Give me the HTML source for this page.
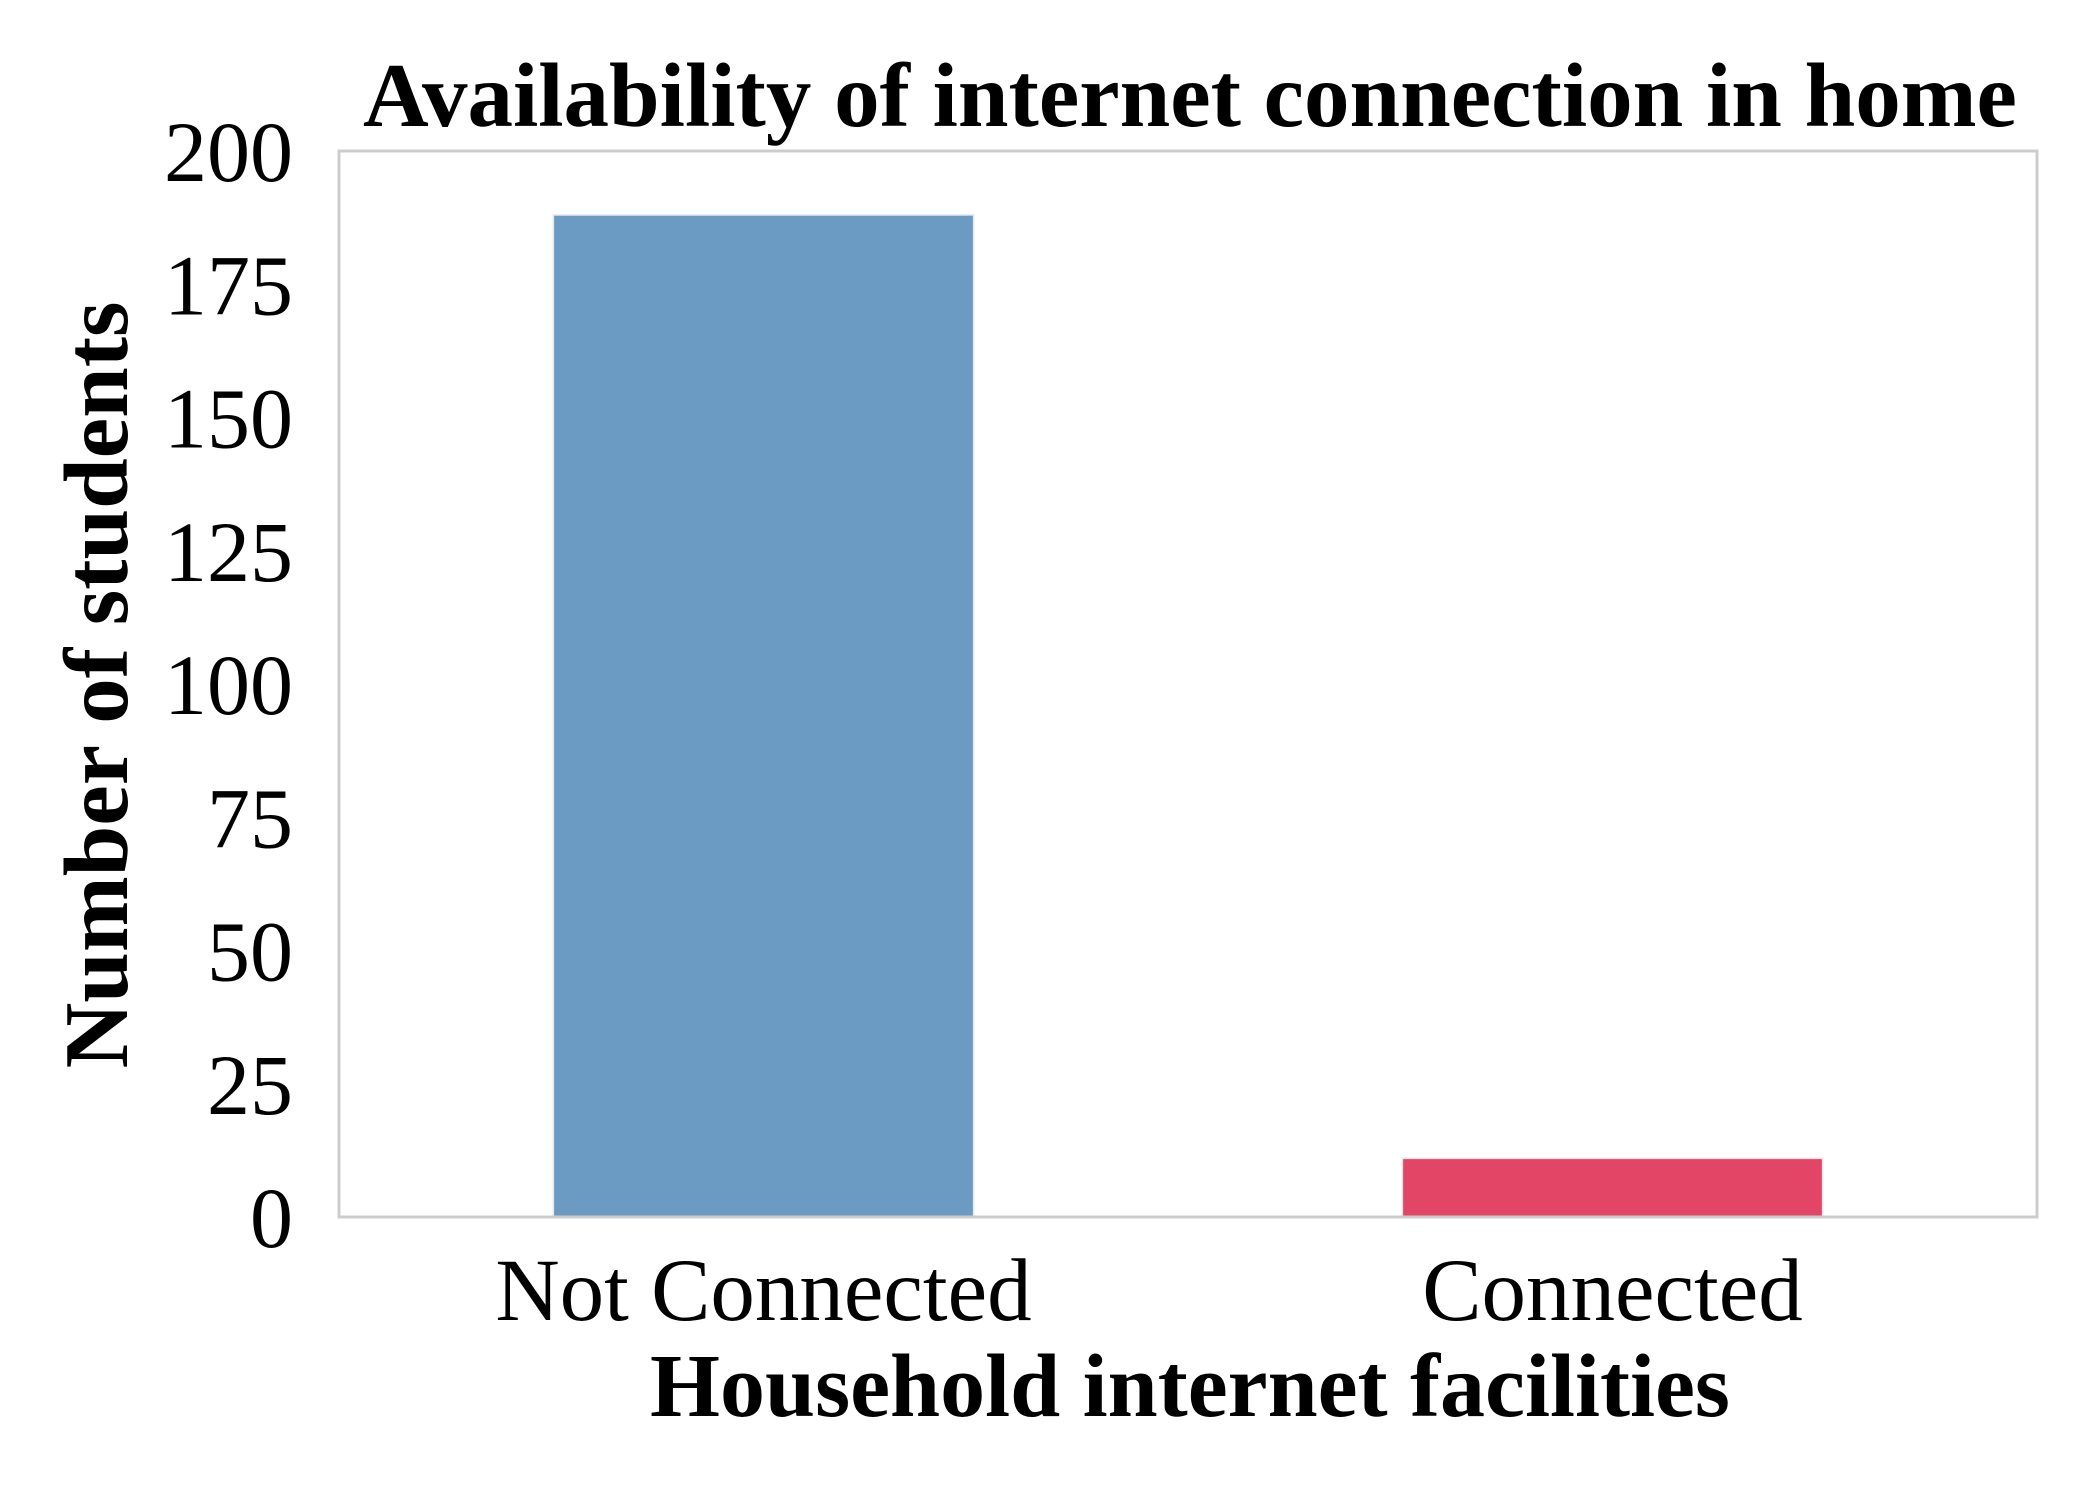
<!DOCTYPE html>
<html><head><meta charset="utf-8"><style>
html,body{margin:0;padding:0;background:#fff;}
svg{display:block;}
text{font-family:"Liberation Serif",serif;fill:#000;}
</style></head><body>
<svg id="chart" width="2100" height="1500" viewBox="0 0 2100 1500" xmlns="http://www.w3.org/2000/svg">
<rect x="0" y="0" width="2100" height="1500" fill="#fff"/>
<text x="1190" y="126" font-size="91" font-weight="bold" text-anchor="middle">Availability of internet connection in home</text>
<g id="plot"></g>
<text x="1190" y="1416" font-size="90" font-weight="bold" text-anchor="middle">Household internet facilities</text>
<text transform="translate(127,685) rotate(-90)" font-size="91" font-weight="bold" text-anchor="middle">Number of students</text>
</svg>
<script>
const categories = ["Not Connected", "Connected"];
const values = [188, 11];
const colors = ["#6b9bc3", "#e34566"];
const yTicks = [0, 25, 50, 75, 100, 125, 150, 175, 200];

const NS = "http://www.w3.org/2000/svg";
const L = 339, R = 2037, T = 151, B = 1217;
const yMax = 200;
function yScale(v){ return B - (v / yMax) * (B - T); }
const band = (R - L) / categories.length;
function xCenter(i){ return L + band * (i + 0.5); }
const barW = band * 0.495;
const g = document.getElementById('plot');

yTicks.forEach(function(t){
  const tx = document.createElementNS(NS, 'text');
  tx.setAttribute('x', 293);
  tx.setAttribute('y', yScale(t) + 30);
  tx.setAttribute('font-size', '86');
  tx.setAttribute('text-anchor', 'end');
  tx.textContent = t;
  
  
  g.appendChild(tx);
});

values.forEach(function(v, i){
  const r = document.createElementNS(NS, 'rect');
  r.setAttribute('x', xCenter(i) - barW / 2);
  r.setAttribute('y', yScale(v));
  r.setAttribute('width', barW);
  r.setAttribute('height', B - yScale(v));
  r.setAttribute('fill', colors[i]);
  r.setAttribute('stroke', '#e8e8e8');
  r.setAttribute('stroke-width', '1.5');
  
  
  g.appendChild(r);
  const tx = document.createElementNS(NS, 'text');
  tx.setAttribute('x', xCenter(i));
  tx.setAttribute('y', 1320);
  tx.setAttribute('font-size', '89');
  tx.setAttribute('text-anchor', 'middle');
  tx.textContent = categories[i];
  
  
  g.appendChild(tx);
});

const frame = document.createElementNS(NS, 'rect');
frame.setAttribute('x', L);
frame.setAttribute('y', T);
frame.setAttribute('width', R - L);
frame.setAttribute('height', B - T);
frame.setAttribute('fill', 'none');
frame.setAttribute('stroke', '#cccccc');
frame.setAttribute('stroke-width', '3');


g.appendChild(frame);
</script>
</body></html>
